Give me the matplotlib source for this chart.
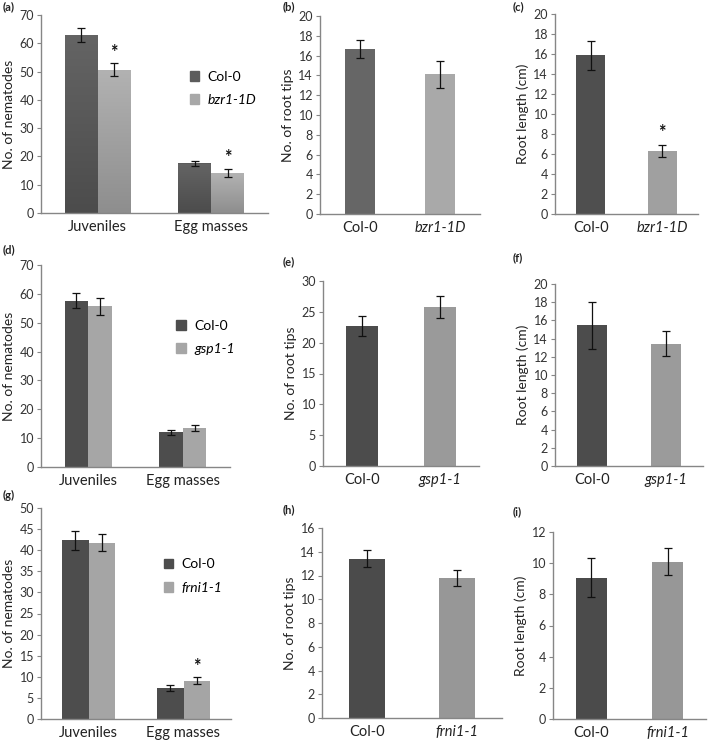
import matplotlib
matplotlib.use("Agg")
import matplotlib.pyplot as plt
import numpy as np
from matplotlib.patches import Patch
from matplotlib.colors import LinearSegmentedColormap

plt.rcParams["font.family"] = ["Lato", "DejaVu Sans"]

groups = ["Juveniles", "Egg masses"]

# (a) nematodes, bzr1-1D
a_col = [62.8, 17.5]
a_col_err = [2.5, 1.0]
a_mut = [50.7, 14.1]
a_mut_err = [2.2, 1.4]
# (b) root tips, bzr1-1D
b_vals = [16.7, 14.1]
b_err = [0.9, 1.4]
# (c) root length, bzr1-1D
c_vals = [15.9, 6.3]
c_err = [1.45, 0.62]
# (d) nematodes, gsp1-1
d_col = [57.6, 12.0]
d_col_err = [2.6, 0.8]
d_mut = [55.7, 13.4]
d_mut_err = [2.9, 1.0]
# (e) root tips, gsp1-1
e_vals = [22.7, 25.8]
e_err = [1.6, 1.8]
# (f) root length, gsp1-1
f_vals = [15.45, 13.45]
f_err = [2.55, 1.35]
# (g) nematodes, frni1-1
g_col = [42.3, 7.35]
g_col_err = [2.2, 0.65]
g_mut = [41.8, 9.1]
g_mut_err = [2.0, 0.75]
# (h) root tips, frni1-1
h_vals = [13.4, 11.8]
h_err = [0.72, 0.65]
# (i) root length, frni1-1
i_vals = [9.05, 10.1]
i_err = [1.25, 0.87]

W, H = 709, 741
fig = plt.figure(figsize=(W / 100, H / 100), dpi=100)
EKW = dict(elinewidth=0.9, capthick=0.9, ecolor="#111111")


def add_ax(x0, x1, y0, y1):
    # pixel box (y from top) -> figure fraction
    return fig.add_axes([x0 / W, 1 - y1 / H, (x1 - x0) / W, (y1 - y0) / H])


def style(ax, ymax, step, ylabel):
    for s in ("top", "right"):
        ax.spines[s].set_visible(False)
    for s in ("left", "bottom"):
        ax.spines[s].set_color("#868686")
        ax.spines[s].set_linewidth(1.0)
    ax.set_ylim(0, ymax)
    ax.set_yticks(np.arange(0, ymax + 0.01, step))
    ax.set_xlim(-0.5, 1.5)
    ax.tick_params(axis="y", length=3, width=0.8, color="#868686",
                   labelsize=9, labelcolor="#333333", pad=2)
    ax.tick_params(axis="x", length=0, labelsize=10.5, labelcolor="#222222", pad=5)
    ax.set_ylabel(ylabel, fontsize=10, color="#222222", labelpad=3)


def star(ax, x, y):
    ax.text(x, y, "*", ha="center", va="bottom", fontsize=13,
            fontweight="bold", color="#111111")


def gradient(ax, bars, top, bottom):
    # Excel-style vertical gradient fill, clipped to each bar
    cmap = LinearSegmentedColormap.from_list("g", [bottom, top])
    grad = np.linspace(0, 1, 64).reshape(-1, 1)
    for b in bars:
        x0, y0 = b.get_x(), b.get_y()
        im = ax.imshow(grad, cmap=cmap, aspect="auto", origin="lower",
                       extent=(x0, x0 + b.get_width(), y0, y0 + b.get_height()),
                       zorder=1.5, interpolation="bilinear")
        im.set_clip_path(b)


def grouped(ax, col, col_err, mut, mut_err, width, mutant, c1, c2, leg_xy,
            fsize=10):
    x = np.arange(len(groups))
    b1 = ax.bar(x - width / 2, col, width, color=c1, yerr=col_err, capsize=3,
                error_kw=EKW)
    b2 = ax.bar(x + width / 2, mut, width, color=c2, yerr=mut_err, capsize=3,
                error_kw=EKW)
    ax.set_xticks(x)
    ax.set_xticklabels(groups)
    leg = ax.legend(handles=[Patch(color=c1, label="Col-0"),
                             Patch(color=c2, label=mutant)],
                    loc="upper left", bbox_to_anchor=leg_xy, frameon=False,
                    handlelength=0.7, handleheight=0.7, handletextpad=0.6,
                    labelspacing=0.8, fontsize=fsize)
    leg.get_texts()[1].set_style("italic")
    return b1, b2


def single(ax, vals, err, width, mutant, c1, c2):
    x = np.arange(2)
    ax.bar(x, vals, width, color=[c1, c2], yerr=err, capsize=3, error_kw=EKW)
    ax.set_xticks(x)
    ax.set_xticklabels(["Col-0", mutant])
    ax.get_xticklabels()[1].set_style("italic")


# row 1
ax = add_ax(41, 268, 15, 213)
style(ax, 70, 10, "No. of nematodes")
b1, b2 = grouped(ax, a_col, a_col_err, a_mut, a_mut_err, 0.29, "bzr1-1D",
                 "#5c5c5c", "#a8a8a8", (0.6, 0.78))
gradient(ax, b1, "#646464", "#4c4c4c")
gradient(ax, b2, "#b2b2b2", "#8e8e8e")
for k in range(2):
    star(ax, k + 0.145, a_mut[k] + a_mut_err[k] + 1.0)

ax = add_ax(320, 480, 16, 214)
style(ax, 20, 2, "No. of root tips")
single(ax, b_vals, b_err, 0.375, "bzr1-1D", "#666666", "#a9a9a9")

ax = add_ax(555, 698, 14, 214)
style(ax, 20, 2, "Root length (cm)")
single(ax, c_vals, c_err, 0.41, "bzr1-1D", "#4f4f4f", "#a0a0a0")
star(ax, 1, c_vals[1] + c_err[1] + 0.4)

# row 2
ax = add_ax(41, 230, 265, 467)
style(ax, 70, 10, "No. of nematodes")
grouped(ax, d_col, d_col_err, d_mut, d_mut_err, 0.25, "gsp1-1",
        "#4d4d4d", "#a6a6a6", (0.65, 0.79))

ax = add_ax(323, 479, 281, 466)
style(ax, 30, 5, "No. of root tips")
single(ax, e_vals, e_err, 0.40, "gsp1-1", "#4c4c4c", "#9a9a9a")

ax = add_ax(555, 703, 284, 466)
style(ax, 20, 2, "Root length (cm)")
single(ax, f_vals, f_err, 0.405, "gsp1-1", "#4c4c4c", "#9b9b9b")

# row 3
ax = add_ax(41, 231, 508, 719)
style(ax, 50, 5, "No. of nematodes")
grouped(ax, g_col, g_col_err, g_mut, g_mut_err, 0.28, "frni1-1",
        "#4d4d4d", "#a5a5a5", (0.58, 0.82))
star(ax, 1 + 0.14, g_mut[1] + g_mut_err[1] + 0.6)

ax = add_ax(322, 502, 528, 718)
style(ax, 16, 2, "No. of root tips")
single(ax, h_vals, h_err, 0.39, "frni1-1", "#4b4b4b", "#979797")

ax = add_ax(553, 706, 532, 719)
style(ax, 12, 2, "Root length (cm)")
single(ax, i_vals, i_err, 0.40, "frni1-1", "#4b4b4b", "#979797")

# panel letters
letters = [("(a)", 3, 7), ("(b)", 283, 7), ("(c)", 513, 7),
           ("(d)", 3, 250), ("(e)", 283, 262), ("(f)", 513, 258),
           ("(g)", 3, 495), ("(h)", 283, 510), ("(i)", 513, 512)]
for txt, px, py in letters:
    fig.text(px / W, 1 - py / H, txt, fontsize=8, fontweight="bold",
             ha="left", va="center", color="#222222")

fig.savefig("out.png", dpi=100)
